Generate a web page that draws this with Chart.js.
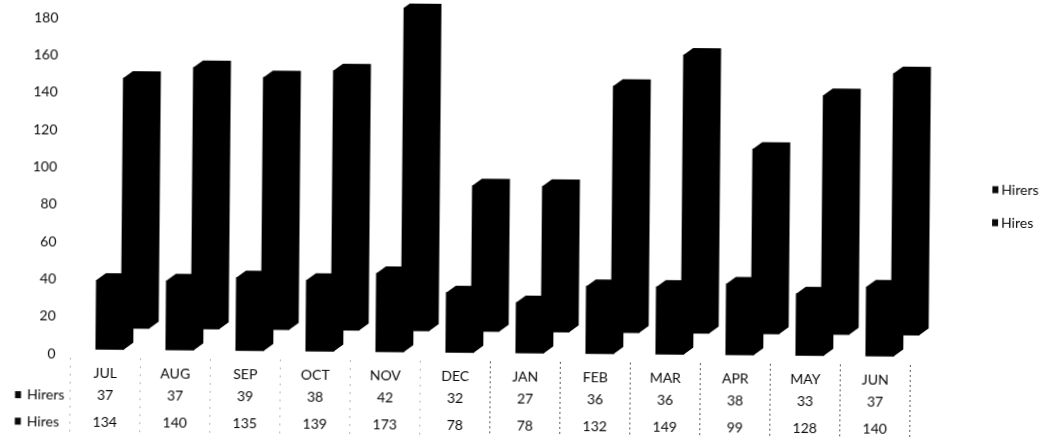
<!DOCTYPE html>
<html>
<head>
<meta charset="utf-8">
<script src="https://cdn.jsdelivr.net/npm/chart.js@4"></script>
<style>
html,body{margin:0;padding:0;background:#fff;overflow:hidden;width:1046px;height:443px}
canvas{display:block;transform-origin:0 0;transform:rotate(0.5deg);filter:blur(0.35px)}
</style>
</head>
<body>
<canvas id="c" width="1046" height="443"></canvas>
<script>
const categories = ["JUL","AUG","SEP","OCT","NOV","DEC","JAN","FEB","MAR","APR","MAY","JUN"];
const hirers = [37,37,39,38,42,32,27,36,36,38,33,37];
const hires = [134,140,135,139,173,78,78,132,149,99,128,140];
const seriesNames = ["Hirers","Hires"];

const FONT = '14px Lato';
const INK = '#0a0a0a';
const DEPTH = {x:9.5, y:7};
const SHIFT = [{x:4.3, y:-4.6},{x:29.5, y:-25.8}];

const bars3d = {
  id:'bars3d',
  beforeDatasetDraw(chart,args){
    const s = SHIFT[args.index], c = chart.ctx;
    c.save();
    c.translate(s.x,s.y);
  },
  afterDatasetDraw(chart,args){
    const c = chart.ctx;
    c.fillStyle = '#000';
    args.meta.data.forEach(el=>{
      const p = el.getProps(['x','y','base','width'],true);
      const l = p.x-p.width/2, r = p.x+p.width/2;
      c.beginPath();
      c.moveTo(l,p.y);
      c.lineTo(l+DEPTH.x,p.y-DEPTH.y);
      c.lineTo(r+DEPTH.x,p.y-DEPTH.y);
      c.lineTo(r+DEPTH.x,p.base-DEPTH.y);
      c.lineTo(r,p.base);
      c.closePath();
      c.fill();
    });
    c.restore();
  }
};

const dataTable = {
  id:'dataTable',
  afterDraw(chart){
    const c = chart.ctx, x = chart.scales.x;
    const rows = [{y:394.5,name:seriesNames[0],vals:hirers,leg:181},{y:421,name:seriesNames[1],vals:hires,leg:214}];
    c.save();
    c.font = FONT;
    c.fillStyle = INK;
    c.textBaseline = 'middle';
    rows.forEach(r=>{
      c.textAlign = 'center';
      r.vals.forEach((v,i)=>c.fillText(String(v),x.getPixelForValue(i),r.y));
      c.textAlign = 'left';
      c.fillText(r.name,30.5,r.y);
      c.fillRect(18.5,r.y-3.5,6,7);
      c.fillText(r.name,1003,r.leg);
      c.fillRect(994,r.leg-3.5,6,7);
    });
    // dotted separators of the data table
    for(let i=0;i<=categories.length;i++){
      const px = x.left + (x.right-x.left)*i/categories.length;
      c.beginPath();
      c.strokeStyle = i>=6 ? '#555' : '#b5b5b5';
      c.lineWidth = 1;
      c.setLineDash(i>=6 ? [2,3] : [2,6]);
      c.moveTo(px,357);
      c.lineTo(px,432);
      c.stroke();
    }
    c.restore();
  }
};

new Chart(document.getElementById('c'),{
  type:'bar',
  data:{
    labels:categories,
    datasets:[
      {label:seriesNames[0],data:hirers,backgroundColor:'#000',barThickness:28,clip:false},
      {label:seriesNames[1],data:hires,backgroundColor:'#000',barThickness:28,clip:false}
    ]
  },
  options:{
    responsive:false,
    animation:false,
    devicePixelRatio:1,
    layout:{padding:{top:17,right:132.5,left:0,bottom:0}},
    datasets:{bar:{grouped:false}},
    plugins:{legend:{display:false},tooltip:{enabled:false}},
    scales:{
      x:{
        grid:{display:false,drawTicks:false},
        border:{display:false},
        ticks:{font:{family:'Lato',size:14},color:INK,padding:11,maxRotation:0,autoSkip:false},
        afterFit(s){s.height=90;s.paddingLeft=0;s.paddingRight=0;}
      },
      y:{
        min:0,max:180,
        grid:{display:false,drawTicks:false},
        border:{display:false},
        ticks:{stepSize:20,font:{family:'Lato',size:14},color:INK,padding:15},
        afterFit(s){s.width=73.5;s.paddingTop=0;s.paddingBottom=0;}
      }
    }
  },
  plugins:[bars3d,dataTable]
});
</script>
</body>
</html>
